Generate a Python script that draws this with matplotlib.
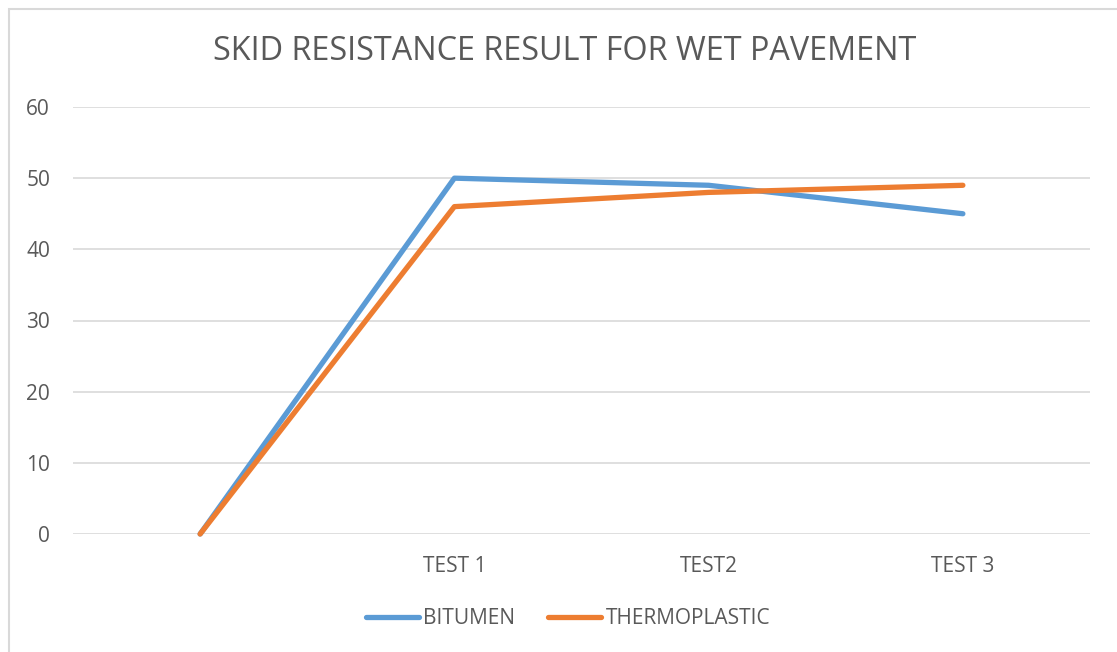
import matplotlib.pyplot as plt
from matplotlib.patches import Rectangle

# Données du graphique
categories = ["", "TEST 1", "TEST2", "TEST 3"]
bitumen = [0, 50, 49, 45]
thermoplastic = [0, 46, 48, 49]
yticks = [0, 10, 20, 30, 40, 50, 60]

plt.rcParams['font.family'] = ['Open Sans', 'DejaVu Sans']
grey_text = '#595959'

fig = plt.figure(figsize=(11.17, 6.52), dpi=100)
ax = fig.add_axes([73 / 1117, 1 - 534 / 652, (1090 - 73) / 1117, (534 - 107) / 652])

# Cadre du graphique (bordure grise façon Excel)
fig.patches.append(Rectangle((9 / 1117, -0.05), 1.2, 1 - 9 / 652 + 0.05,
                             transform=fig.transFigure, fill=False,
                             edgecolor='#D9D9D9', linewidth=1.5))

x = range(len(categories))
ax.plot(x, bitumen, color='#5B9BD5', linewidth=3.8, solid_capstyle='round',
        solid_joinstyle='round', label='BITUMEN', clip_on=False)
ax.plot(x, thermoplastic, color='#ED7D31', linewidth=3.8, solid_capstyle='round',
        solid_joinstyle='round', label='THERMOPLASTIC', clip_on=False)

ax.set_xlim(-0.5, len(categories) - 0.5)
ax.set_ylim(0, 60)
ax.set_yticks(yticks)
ax.set_xticks(list(x))
ax.set_xticklabels(categories)
ax.grid(axis='y', color='#D9D9D9', linewidth=1.2)
ax.set_axisbelow(True)
for s in ax.spines.values():
    s.set_visible(False)
ax.tick_params(length=0, labelsize=15, labelcolor=grey_text)
ax.tick_params(axis='y', pad=16.5)
ax.tick_params(axis='x', pad=16)

fig.text(565 / 1117, 1 - 51 / 652, "SKID RESISTANCE RESULT FOR WET PAVEMENT",
         ha='center', va='center', fontsize=23.3, color=grey_text)

leg = fig.legend(loc='center', bbox_to_anchor=(568 / 1117, 1 - 619 / 652), ncol=2,
                 frameon=False, fontsize=15, handlelength=2.55, handletextpad=0.2,
                 columnspacing=1.6)
for t in leg.get_texts():
    t.set_color(grey_text)

fig.savefig('out.png', dpi=100)
